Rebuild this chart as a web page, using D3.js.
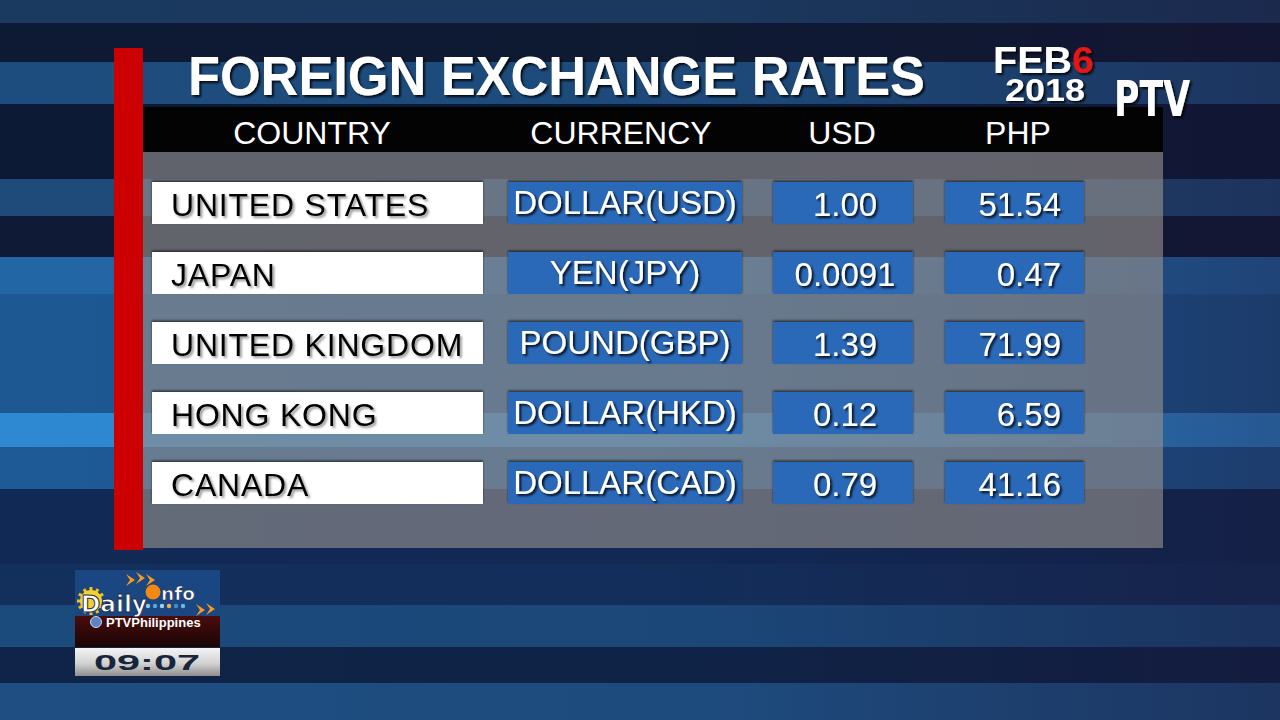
<html>
  <head>
    <script src="https://d3js.org/d3.v7.min.js"></script>
    <style>
      body { margin: 0; background: #0c1a36; }
      svg { display: block; font-family: "Liberation Sans", Arial, sans-serif; }
    </style>
  </head>
  <body>
    <svg class="chart"></svg>
  </body>
  <script>
  // table data
  const headers = ['COUNTRY', 'CURRENCY', 'USD', 'PHP'];
  const countries = ['UNITED STATES', 'JAPAN', 'UNITED KINGDOM', 'HONG KONG', 'CANADA'];
  const currencies = ['DOLLAR(USD)', 'YEN(JPY)', 'POUND(GBP)', 'DOLLAR(HKD)', 'DOLLAR(CAD)'];
  const usdRates = [1.00, 0.0091, 1.39, 0.12, 0.79];
  const phpRates = [51.54, 0.47, 71.99, 6.59, 41.16];
  const title = 'FOREIGN EXCHANGE RATES';
  const dateMonth = 'FEB', dateDay = '6', dateYear = '2018';
  const clock = '09:07';

  // background stripes [top, bottom, colour]
  const stripes = [
    [0, 23, '#1b3a60'], [23, 62, '#0e1a33'], [62, 104, '#1d4d7e'], [104, 179, '#0c1a36'],
    [179, 216, '#1f4b7a'], [216, 257, '#0f1b36'], [257, 294, '#2366a6'], [294, 413, '#1d5893'],
    [413, 447, '#2e88d2'], [447, 489, '#1e5a96'], [489, 564, '#112a55'], [564, 605, '#132f5c'],
    [605, 647, '#1b4a7c'], [647, 683, '#0f2448'], [683, 720, '#1e4e82']
  ];

  const width = 1280, height = 720;
  const svg = d3.select('.chart')
    .attr('viewBox', [0, 0, width, height])
    .attr('width', width)
    .attr('height', height);

  const defs = svg.append('defs');
  function shadow(id, col, op, dx, dy, sd){
    defs.append('filter').attr('id', id)
      .attr('x', '-10%').attr('y', '-20%').attr('width', '130%').attr('height', '150%')
      .append('feDropShadow')
        .attr('dx', dx).attr('dy', dy).attr('stdDeviation', sd)
        .attr('flood-color', col).attr('flood-opacity', op);
  }
  shadow('txtShadow', '#000', 0.85, 2, 2, 1.2);
  shadow('darkTxtShadow', '#444', 0.55, 2, 2, 1);
  shadow('boxShadow', '#000', 0.6, 0, -1.5, 0.8);

  const fade = defs.append('linearGradient').attr('id', 'fade');
  fade.append('stop').attr('offset', '0%').attr('stop-color', '#1a1030').attr('stop-opacity', 0);
  fade.append('stop').attr('offset', '55%').attr('stop-color', '#1a1030').attr('stop-opacity', 0.05);
  fade.append('stop').attr('offset', '100%').attr('stop-color', '#1a1030').attr('stop-opacity', 0.4);

  const silver = defs.append('linearGradient').attr('id', 'silver').attr('x2', 0).attr('y2', 1);
  silver.append('stop').attr('offset', '0%').attr('stop-color', '#f4f4f4');
  silver.append('stop').attr('offset', '55%').attr('stop-color', '#d2d2d2');
  silver.append('stop').attr('offset', '100%').attr('stop-color', '#8e8e8e');

  const maroon = defs.append('linearGradient').attr('id', 'maroon').attr('x2', 0).attr('y2', 1);
  maroon.append('stop').attr('offset', '0%').attr('stop-color', '#4a0c0c');
  maroon.append('stop').attr('offset', '100%').attr('stop-color', '#1a0505');

  // background
  svg.append('g').selectAll('rect')
    .data(stripes)
    .join('rect')
      .attr('x', 0).attr('width', width)
      .attr('y', d => d[0]).attr('height', d => d[1] - d[0])
      .attr('fill', d => d[2]);
  svg.append('rect').attr('width', width).attr('height', height).attr('fill', 'url(#fade)');

  // panel
  const panel = {x0: 143, x1: 1163, top: 107, head: 152, bottom: 548};
  svg.append('rect')
    .attr('x', panel.x0).attr('y', panel.head)
    .attr('width', panel.x1 - panel.x0).attr('height', panel.bottom - panel.head)
    .attr('fill', 'rgb(150,146,142)').attr('fill-opacity', 0.62);
  svg.append('rect')
    .attr('x', panel.x0).attr('y', panel.top)
    .attr('width', panel.x1 - panel.x0).attr('height', panel.head - panel.top)
    .attr('fill', '#030303');
  svg.append('rect')
    .attr('x', 114).attr('y', 48).attr('width', 29).attr('height', 502)
    .attr('fill', '#cc0000');

  // title
  svg.append('text')
    .attr('x', 188).attr('y', 95)
    .attr('textLength', 737).attr('lengthAdjust', 'spacingAndGlyphs')
    .attr('font-size', 55).attr('font-weight', 'bold')
    .attr('fill', '#fff').attr('filter', 'url(#txtShadow)')
    .text(title);

  // columns
  const cols = [
    {x0: 152, x1: 483, fill: '#ffffff'},
    {x0: 508, x1: 742, fill: '#2b67b8'},
    {x0: 773, x1: 913, fill: '#2b67b8'},
    {x0: 945, x1: 1084, fill: '#2b67b8'}
  ];
  const headX = [312, 621, 842, 1018];

  svg.append('g').selectAll('text')
    .data(headers)
    .join('text')
      .attr('x', (d, i) => headX[i]).attr('y', 144)
      .attr('text-anchor', 'middle')
      .attr('font-size', 32).attr('fill', '#fff')
      .text(d => d);

  const y = d3.scaleBand()
    .domain(countries)
    .range([182, 504])
    .paddingInner(0.4)
    .paddingOuter(0);

  const fmt = v => v < 0.1 ? d3.format('.4f')(v) : d3.format('.2f')(v);
  const rows = countries.map((c, i) => ({
    country: c, currency: currencies[i], usd: fmt(usdRates[i]), php: fmt(phpRates[i])
  }));

  const row = svg.append('g').selectAll('g')
    .data(rows)
    .join('g')
      .attr('transform', d => `translate(0,${y(d.country)})`);

  cols.forEach((c, i) => {
    row.append('rect')
      .attr('x', c.x0).attr('y', 0)
      .attr('width', c.x1 - c.x0).attr('height', y.bandwidth())
      .attr('fill', c.fill)
      .attr('filter', 'url(#boxShadow)');
  });

  const mid = y.bandwidth() / 2 + 12;
  row.append('text')
    .attr('x', 171).attr('y', mid + 1)
    .attr('font-size', 32).attr('fill', '#000')
    .attr('letter-spacing', 0.8)
    .attr('filter', 'url(#darkTxtShadow)')
    .text(d => d.country);
  row.append('text')
    .attr('x', (cols[1].x0 + cols[1].x1) / 2).attr('y', mid - 1)
    .attr('text-anchor', 'middle')
    .attr('font-size', 33).attr('fill', '#fff')
    .attr('filter', 'url(#txtShadow)')
    .text(d => d.currency);
  row.append('text')
    .attr('x', 845).attr('y', mid + 1)
    .attr('text-anchor', 'middle')
    .attr('font-size', 33).attr('fill', '#fff')
    .attr('filter', 'url(#txtShadow)')
    .text(d => d.usd);
  row.append('text')
    .attr('x', 1061).attr('y', mid + 1)
    .attr('text-anchor', 'end')
    .attr('font-size', 33).attr('fill', '#fff')
    .attr('filter', 'url(#txtShadow)')
    .text(d => d.php);

  // date
  const date = svg.append('text')
    .attr('x', 993).attr('y', 73)
    .attr('textLength', 101).attr('lengthAdjust', 'spacingAndGlyphs')
    .attr('font-size', 36).attr('font-weight', 'bold')
    .attr('fill', '#fff').attr('filter', 'url(#txtShadow)');
  date.append('tspan').text(dateMonth);
  date.append('tspan').attr('fill', '#e41414').text(dateDay);
  svg.append('text')
    .attr('x', 1005).attr('y', 101)
    .attr('textLength', 80).attr('lengthAdjust', 'spacingAndGlyphs')
    .attr('font-size', 31).attr('font-weight', 'bold')
    .attr('fill', '#fff').attr('filter', 'url(#txtShadow)')
    .text(dateYear);

  // channel logo
  svg.append('text')
    .attr('x', 1114).attr('y', 116)
    .attr('textLength', 76).attr('lengthAdjust', 'spacingAndGlyphs')
    .attr('font-family', '"DejaVu Sans", sans-serif')
    .attr('font-size', 50).attr('font-weight', 'bold')
    .attr('fill', '#fff').attr('filter', 'url(#txtShadow)')
    .text('PTV');

  // programme bug, bottom left
  const bug = svg.append('g');
  bug.append('rect').attr('x', 75).attr('y', 570).attr('width', 145).attr('height', 46).attr('fill', '#1a4682');
  bug.append('rect').attr('x', 75).attr('y', 616).attr('width', 145).attr('height', 31).attr('fill', 'url(#maroon)');
  bug.append('rect').attr('x', 75).attr('y', 648).attr('width', 145).attr('height', 28).attr('fill', 'url(#silver)');

  // sun
  const sun = bug.append('g').attr('transform', 'translate(91,601)');
  sun.selectAll('line')
    .data(d3.range(12))
    .join('line')
      .attr('x1', 0).attr('y1', 0)
      .attr('x2', d => 14 * Math.cos(d * Math.PI / 6))
      .attr('y2', d => 14 * Math.sin(d * Math.PI / 6))
      .attr('stroke', '#f2c21a').attr('stroke-width', 3);
  sun.append('circle').attr('r', 11).attr('fill', '#f6cf2a');
  // arrows
  [[126, 574], [136, 572], [146, 574], [196, 604], [206, 603]].forEach(([ax, ay]) => {
    bug.append('path')
      .attr('d', `M${ax},${ay} l9,6 l-9,6 l4,-6 z`)
      .attr('fill', '#f79a1e');
  });
  bug.append('text')
    .attr('x', 81).attr('y', 612)
    .attr('font-family', '"DejaVu Sans", sans-serif')
    .attr('font-size', 23).attr('font-weight', 'bold')
    .attr('fill', '#fff').attr('stroke', '#1b3050').attr('stroke-width', 1)
    .attr('textLength', 66).attr('lengthAdjust', 'spacingAndGlyphs')
    .text('Daily');
  bug.append('circle').attr('cx', 153).attr('cy', 592).attr('r', 7.5).attr('fill', '#f28a12');
  bug.append('text')
    .attr('x', 161).attr('y', 600)
    .attr('font-family', '"DejaVu Sans", sans-serif')
    .attr('font-size', 18).attr('font-weight', 'bold')
    .attr('fill', '#fff').attr('stroke', '#1b3050').attr('stroke-width', 0.7)
    .attr('textLength', 34).attr('lengthAdjust', 'spacingAndGlyphs')
    .text('nfo');
  [[148, '#8fc6ea'], [155, '#5aa9dc'], [162, '#9bd3ef'], [169, '#f4b04a'], [176, '#3e8fcf'], [183, '#6fb7e4']].forEach(([dx, col]) => {
    bug.append('circle').attr('cx', dx).attr('cy', 606).attr('r', 2.2).attr('fill', col);
  });
  bug.append('circle').attr('cx', 96).attr('cy', 622).attr('r', 5.5).attr('fill', '#5b83c4').attr('stroke', '#c8d6ee').attr('stroke-width', 1);
  bug.append('text')
    .attr('x', 106).attr('y', 627)
    .attr('font-size', 13).attr('font-weight', 'bold')
    .attr('fill', '#fff')
    .text('PTVPhilippines');
  bug.append('text')
    .attr('x', 147).attr('y', 670)
    .attr('text-anchor', 'middle')
    .attr('textLength', 106).attr('lengthAdjust', 'spacingAndGlyphs')
    .attr('font-size', 22).attr('font-weight', 'bold')
    .attr('fill', '#18263c')
    .text(clock);
  </script>
</html>
